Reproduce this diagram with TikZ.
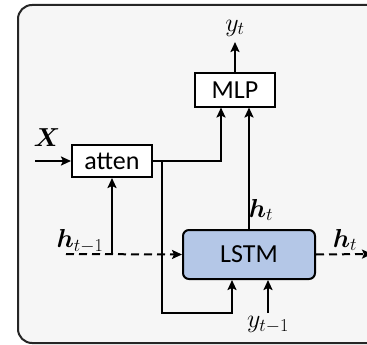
\RequirePackage{fix-cm}
\documentclass[tikz,border=0pt]{standalone}
\usepackage{amsmath}
\usepackage{bm}
\usepackage{fontspec}
\newfontfamily\carl{Carlito}
\usetikzlibrary{arrows.meta}
\definecolor{bgray}{HTML}{F6F6F6}
\definecolor{lstmblue}{HTML}{B4C7E7}
\begin{document}
\begin{tikzpicture}[x=1pt,y=-1pt,
  font=\fontsize{26}{30}\selectfont,
  box/.style={draw=black,line width=2pt,fill=white,inner sep=0pt,font=\fontsize{26}{30}\selectfont\carl},
  conn/.style={line width=2pt,-{Stealth[length=10pt,width=9pt,inset=2pt]}},
  plain/.style={line width=2pt},
  dashconn/.style={conn,dash pattern=on 8pt off 5pt},
  lbl/.style={inner sep=0pt}]
\useasboundingbox (0,0) rectangle (367,345);
\clip (0,0) rectangle (367,345);
\draw[line width=2pt,fill=bgray,draw=black!85,rounded corners=14pt] (18,5) rectangle (400,343);

\node[box,minimum width=80pt,minimum height=33pt] (mlp) at (235,90) {MLP};
\node[box,minimum width=80pt,minimum height=32pt] (atten) at (112,161) {atten};
\node[box,fill=lstmblue,rounded corners=6pt,minimum width=132pt,minimum height=49pt] (lstm) at (249,254.5) {LSTM};

\node[lbl] (yt) at (235,28) {$y_t$};
\node[lbl] (X) at (47,138) {$\bm{X}$};
\node[lbl] (htm1) at (80,241) {$\bm{h}_{t-1}$};
\node[lbl] (htup) at (261,210) {$\bm{h}_t$};
\node[lbl] (htr) at (345,240) {$\bm{h}_t$};
\node[lbl] (ytm1) at (268,325) {$y_{t-1}$};

\coordinate (xin) at (35,161);
\coordinate (split) at (162,161);
\coordinate (loop) at (162,313);
\coordinate (hin) at (66,254);
\coordinate (hbranch) at (112,254);
\coordinate (yin) at (268,313);
\coordinate (hout) at (372,254);

\draw[conn] (mlp.north) -- (235,42);
\draw[conn] (xin) -- (atten.west);
\draw[conn] (atten.east) -| ([xshift=-14pt]mlp.south);
\draw[conn] (split) -- (loop) -| ([xshift=-17pt]lstm.south);
\draw[conn] (lstm.north) -- (lstm.north |- mlp.south);
\draw[dashconn] (hin) -- (lstm.west);
\draw[conn] (hbranch) -- (atten.south);
\draw[conn] (yin) -- (yin |- lstm.south);
\draw[dashconn] (lstm.east) -- (hout);
\end{tikzpicture}
\end{document}
